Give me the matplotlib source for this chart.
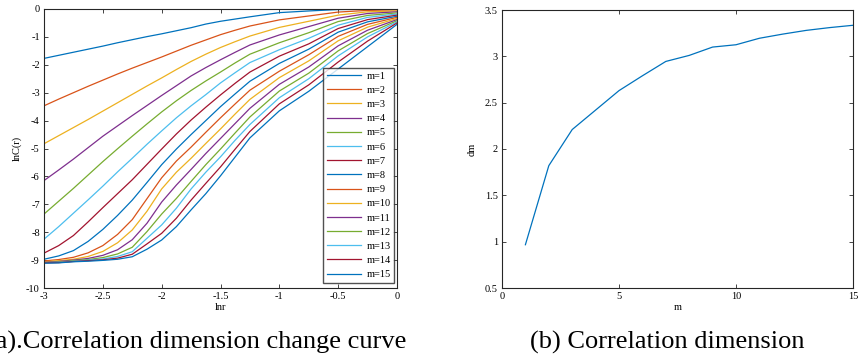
import matplotlib
matplotlib.use("Agg")
import matplotlib.pyplot as plt
import numpy as np

plt.rcParams["font.family"] = ["Liberation Serif", "DejaVu Serif"]

# lnr sample points (left panel)
lnr = [-3.0, -2.875, -2.75, -2.625, -2.5, -2.375, -2.25, -2.125, -2.0, -1.875,
       -1.75, -1.625, -1.5, -1.375, -1.25, -1.0, -0.75, -0.5, -0.25, 0.0]

# lnC(r) for embedding dimension m = 1..15
lnC_m1 = [-1.77, -1.66, -1.55, -1.44, -1.33, -1.21, -1.10, -0.99, -0.89, -0.78,
          -0.67, -0.54, -0.44, -0.36, -0.28, -0.13, -0.07, -0.02, -0.01, 0.0]
lnC_m2 = [-3.47, -3.23, -3.00, -2.77, -2.55, -2.33, -2.12, -1.92, -1.72, -1.51,
          -1.30, -1.11, -0.92, -0.76, -0.61, -0.39, -0.25, -0.11, -0.05, -0.03]
lnC_m3 = [-4.83, -4.54, -4.25, -3.96, -3.66, -3.36, -3.06, -2.76, -2.47, -2.17,
          -1.88, -1.62, -1.38, -1.17, -0.97, -0.66, -0.44, -0.22, -0.10, -0.07]
lnC_m4 = [-6.15, -5.77, -5.38, -4.97, -4.56, -4.19, -3.82, -3.46, -3.10, -2.75,
          -2.40, -2.10, -1.82, -1.55, -1.29, -0.93, -0.63, -0.33, -0.16, -0.10]
lnC_m5 = [-7.35, -6.89, -6.43, -5.95, -5.47, -5.01, -4.56, -4.12, -3.69, -3.29,
          -2.92, -2.58, -2.26, -1.93, -1.62, -1.21, -0.85, -0.45, -0.23, -0.14]
lnC_m6 = [-8.25, -7.80, -7.32, -6.84, -6.35, -5.84, -5.35, -4.85, -4.37, -3.90,
          -3.47, -3.07, -2.65, -2.28, -1.92, -1.46, -1.05, -0.58, -0.30, -0.18]
lnC_m7 = [-8.75, -8.48, -8.12, -7.63, -7.12, -6.62, -6.12, -5.57, -5.02, -4.48,
          -3.98, -3.52, -3.08, -2.66, -2.26, -1.69, -1.25, -0.70, -0.38, -0.22]
lnC_m8 = [-8.97, -8.85, -8.66, -8.33, -7.90, -7.40, -6.85, -6.22, -5.58, -5.02,
          -4.50, -4.00, -3.50, -3.04, -2.59, -1.95, -1.44, -0.83, -0.46, -0.26]
lnC_m9 = [-9.03, -8.98, -8.90, -8.74, -8.48, -8.08, -7.55, -6.80, -6.05, -5.45,
          -4.95, -4.42, -3.90, -3.40, -2.91, -2.23, -1.64, -0.98, -0.55, -0.30]
lnC_m10 = [-9.06, -9.02, -8.97, -8.87, -8.69, -8.38, -7.92, -7.25, -6.45, -5.85,
           -5.35, -4.82, -4.30, -3.76, -3.24, -2.46, -1.86, -1.14, -0.65, -0.34]
lnC_m11 = [-9.08, -9.05, -9.00, -8.94, -8.83, -8.63, -8.27, -7.68, -6.92, -6.31,
           -5.75, -5.18, -4.64, -4.10, -3.56, -2.70, -2.08, -1.32, -0.76, -0.38]
lnC_m12 = [-9.09, -9.07, -9.02, -8.98, -8.91, -8.78, -8.54, -7.98, -7.35, -6.79,
           -6.18, -5.58, -5.02, -4.44, -3.87, -2.94, -2.30, -1.50, -0.88, -0.42]
lnC_m13 = [-9.10, -9.08, -9.04, -9.00, -8.96, -8.87, -8.70, -8.22, -7.74, -7.14,
           -6.45, -5.85, -5.30, -4.70, -4.14, -3.18, -2.50, -1.68, -1.00, -0.46]
lnC_m14 = [-9.10, -9.09, -9.05, -9.02, -8.99, -8.93, -8.79, -8.42, -8.04, -7.50,
           -6.85, -6.25, -5.66, -5.02, -4.39, -3.40, -2.72, -1.90, -1.15, -0.50]
lnC_m15 = [-9.11, -9.10, -9.06, -9.04, -9.01, -8.97, -8.88, -8.61, -8.28, -7.80,
           -7.20, -6.62, -5.98, -5.30, -4.62, -3.65, -2.95, -2.15, -1.35, -0.55]

curves = [lnC_m1, lnC_m2, lnC_m3, lnC_m4, lnC_m5, lnC_m6, lnC_m7, lnC_m8,
          lnC_m9, lnC_m10, lnC_m11, lnC_m12, lnC_m13, lnC_m14, lnC_m15]
labels = ["m=%d" % (i + 1) for i in range(len(curves))]

# correlation dimension (right panel)
m_vals = [1, 2, 3, 4, 5, 6, 7, 8, 9, 10, 11, 12, 13, 14, 15]
dm_vals = [0.967, 1.82, 2.21, 2.42, 2.63, 2.79, 2.945, 3.01, 3.10, 3.125, 3.195, 3.24, 3.28, 3.31, 3.335]

# MATLAB default colour order
matlab_colors = ["#0072BD", "#D95319", "#EDB120", "#7E2F8E", "#77AC30", "#4DBEEE", "#A2142F"]

fig = plt.figure(figsize=(8.65, 3.61), dpi=100)
ax1 = fig.add_axes([44 / 865, 73 / 361, 353 / 865, 279 / 361])
ax2 = fig.add_axes([502 / 865, 73 / 361, 351 / 865, 278 / 361])

tick_fs = 7.5

for i, y in enumerate(curves):
    ax1.plot(lnr, y, color=matlab_colors[i % 7], lw=0.9, label=labels[i])
ax1.set_xlim(-3, 0)
ax1.set_ylim(-10, 0)
ax1.set_xticks(np.arange(-3, 0.01, 0.5))
ax1.set_xticklabels(["-3", "-2.5", "-2", "-1.5", "-1", "-0.5", "0"])
ax1.set_yticks(np.arange(-10, 0.01, 1))
ax1.set_yticklabels([str(v) for v in range(-10, 1)])
ax1.set_xlabel("lnr", fontsize=tick_fs, labelpad=1.5)
ax1.set_ylabel("lnC(r)", fontsize=tick_fs, labelpad=3)
leg = ax1.legend(loc="lower right", bbox_to_anchor=(0.992, 0.018), fontsize=7.5,
                 handlelength=3.3, handletextpad=0.5, labelspacing=0.47,
                 borderpad=0.35, frameon=True, fancybox=False, borderaxespad=0)
leg.get_frame().set_edgecolor("#262626")
leg.get_frame().set_linewidth(1.0)

ax2.plot(m_vals, dm_vals, color="#0072BD", lw=0.9)
ax2.set_xlim(0, 15)
ax2.set_ylim(0.5, 3.5)
ax2.set_xticks([0, 5, 10, 15])
ax2.set_yticks(np.arange(0.5, 3.51, 0.5))
ax2.set_yticklabels(["0.5", "1", "1.5", "2", "2.5", "3", "3.5"])
ax2.set_xlabel("m", fontsize=tick_fs, labelpad=1.5)
ax2.set_ylabel("dm", fontsize=tick_fs, labelpad=6)

for ax in (ax1, ax2):
    ax.tick_params(direction="in", length=3, width=0.6, labelsize=tick_fs,
                   top=True, right=True, pad=3, colors="#262626", labelcolor="black")
    for sp in ax.spines.values():
        sp.set_linewidth(0.8)
        sp.set_color("#262626")

fig.text(197 / 865, 1 - 342 / 361, "(a).Correlation dimension change curve",
         fontsize=19, ha="center", va="center")
fig.text(667 / 865, 1 - 342 / 361, "(b) Correlation dimension",
         fontsize=19, ha="center", va="center")

fig.savefig("out.png", dpi=100)
